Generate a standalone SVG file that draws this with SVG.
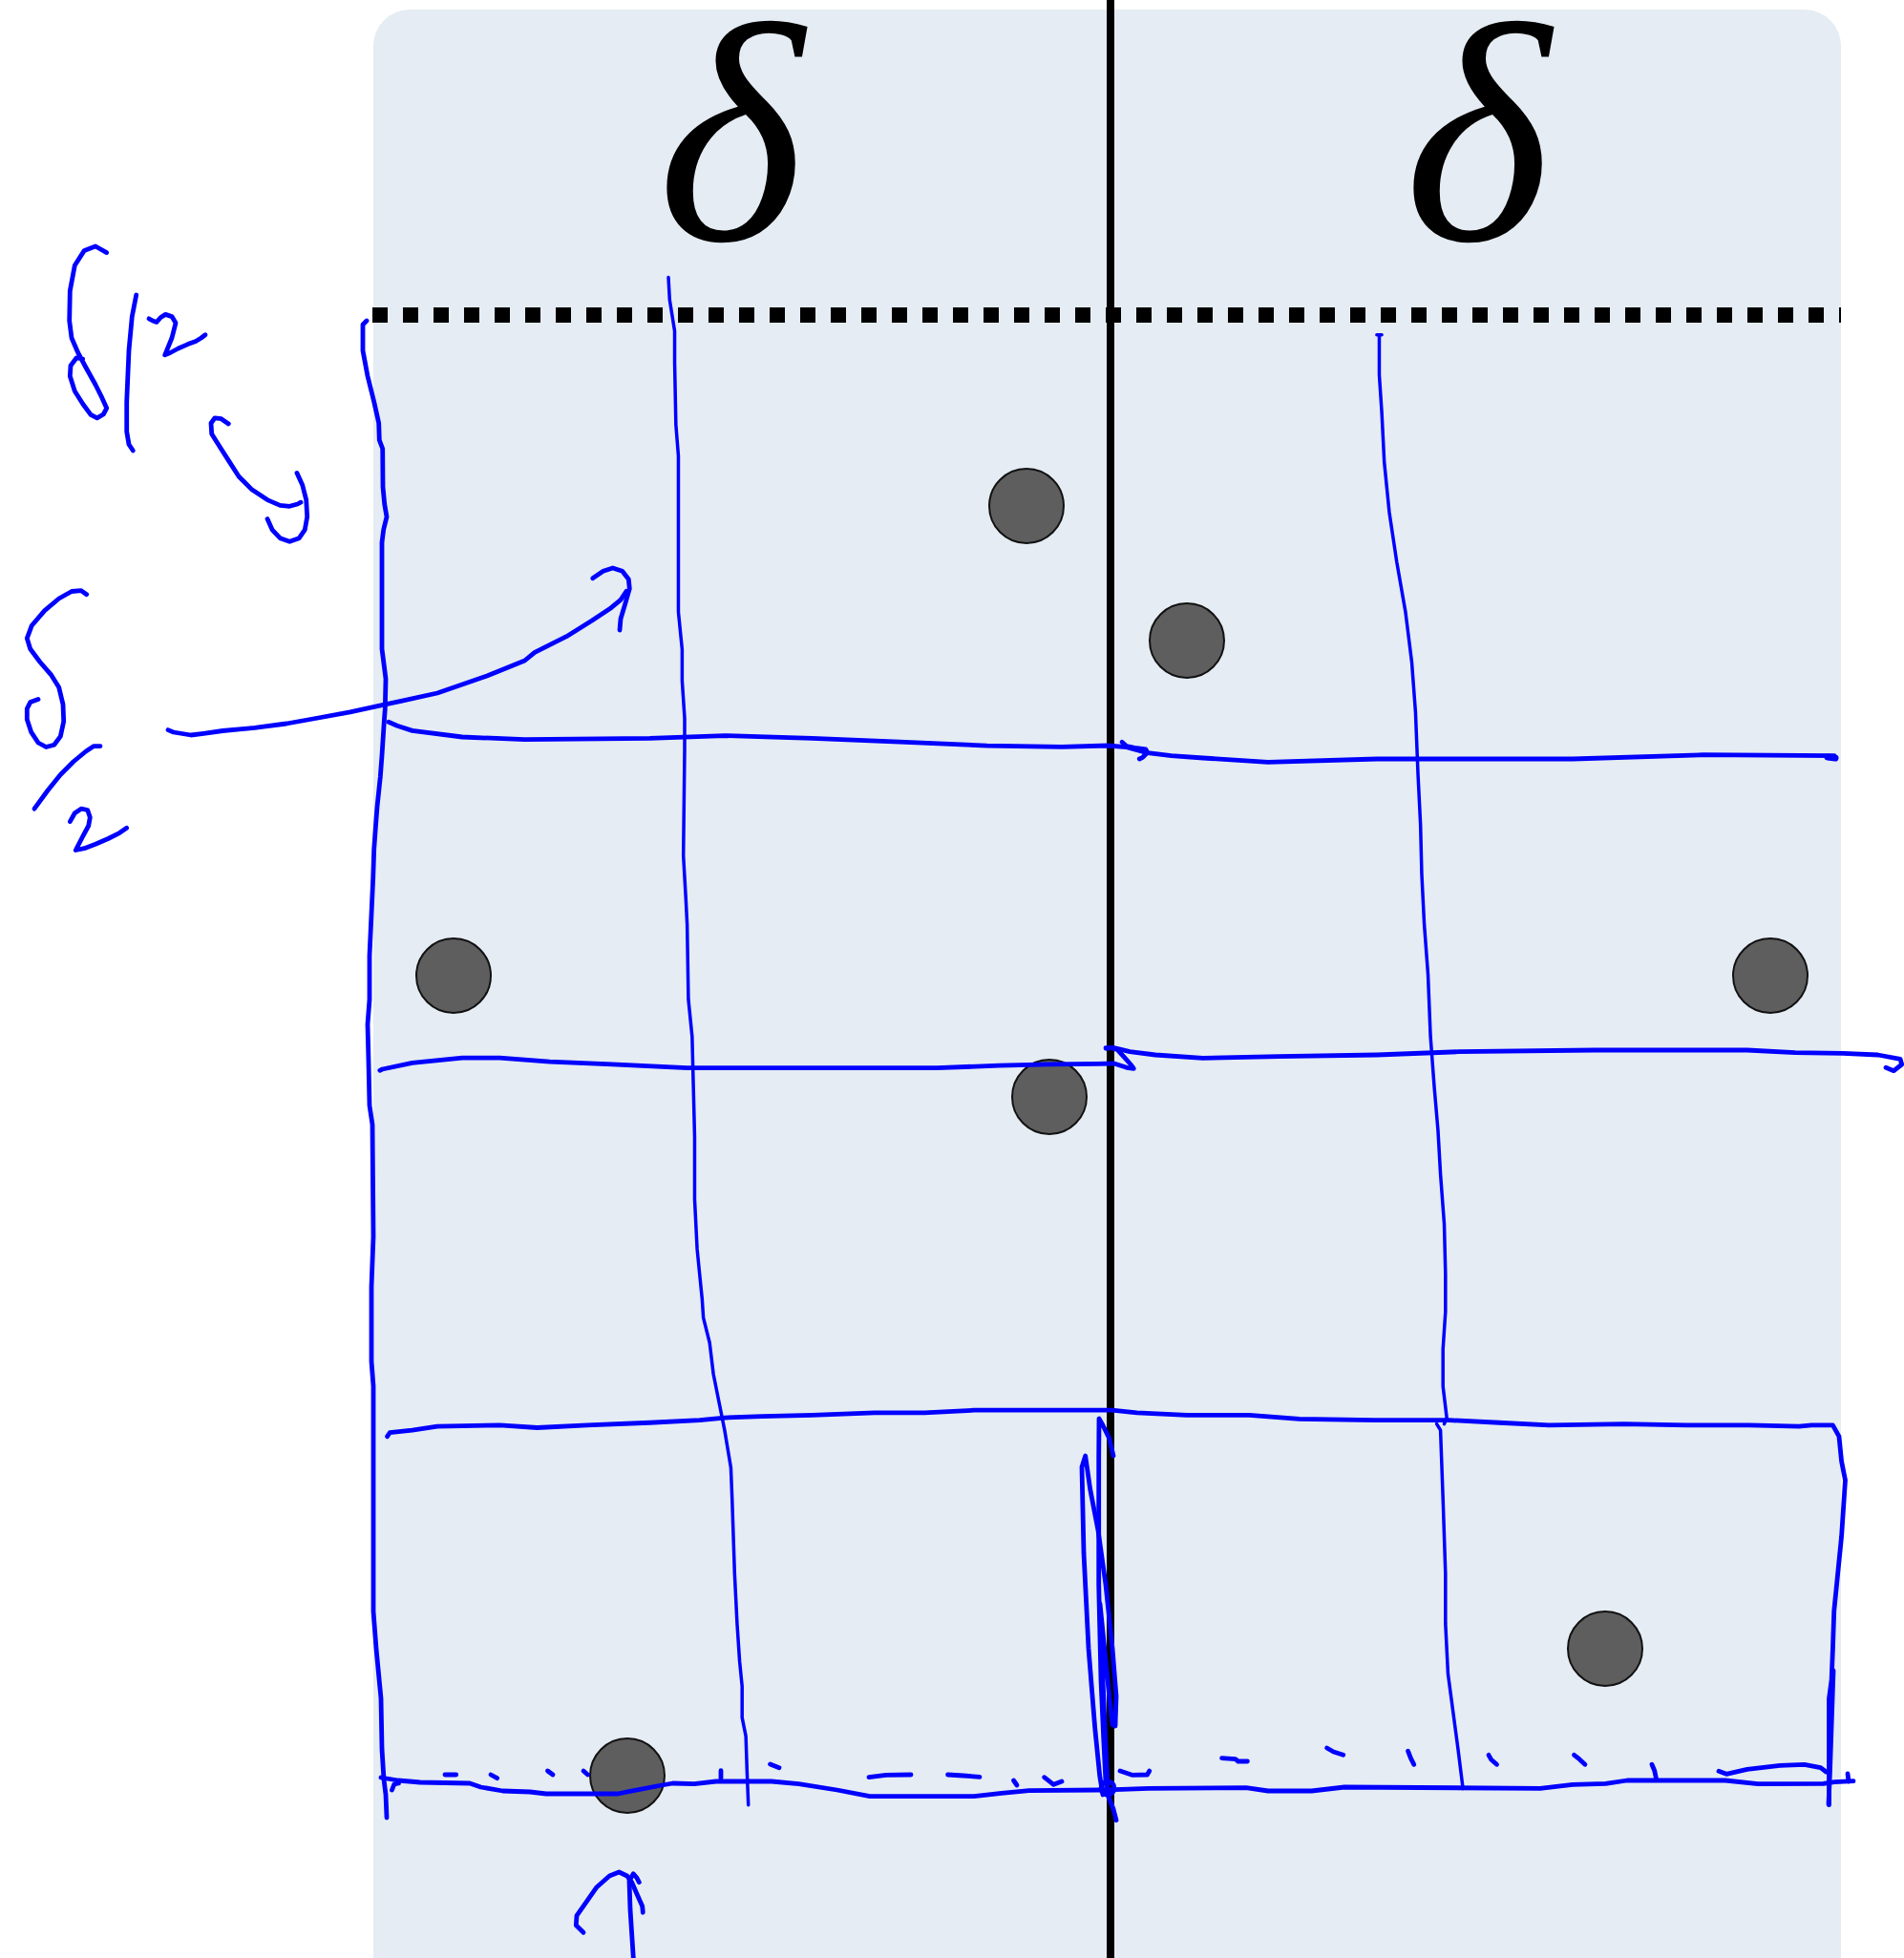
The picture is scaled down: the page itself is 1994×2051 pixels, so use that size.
<svg xmlns="http://www.w3.org/2000/svg" width="1994" height="2051" viewBox="0 0 1994 2051">
<style>
.pen{fill:none;stroke:#0000ff;stroke-width:4.8;stroke-linecap:round;stroke-linejoin:round}
.thin{stroke-width:3.5}
.dot{fill:#5e5e5e;stroke:#111;stroke-width:2}
.delta{font-family:"Liberation Serif","DejaVu Serif",serif;font-style:italic;font-size:328px;fill:#000}
</style>
<rect x="0" y="0" width="1994" height="2051" fill="#ffffff"/>
<g id="panel">
<rect x="391" y="10" width="1537" height="2100" rx="38" fill="#e5ecf3"/>
</g>
<g id="labels">
<text class="delta" x="765" y="251" text-anchor="middle">δ</text>
<text class="delta" x="1547" y="251" text-anchor="middle">δ</text>
</g>
<g id="boundary">
<line x1="390" y1="330" x2="1928" y2="330" stroke="#000" stroke-width="16" stroke-dasharray="16 16"/>
<line x1="1163" y1="0" x2="1163" y2="2051" stroke="#000" stroke-width="8"/>
</g>
<g id="points">
<circle class="dot" cx="1075" cy="530" r="39"/>
<circle class="dot" cx="1243" cy="671" r="39"/>
<circle class="dot" cx="475" cy="1022" r="39"/>
<circle class="dot" cx="1854" cy="1022" r="39"/>
<circle class="dot" cx="1099" cy="1149" r="39"/>
<circle class="dot" cx="1681" cy="1727" r="39"/>
<circle class="dot" cx="657" cy="1860" r="39"/>
</g>
<g id="annotation" class="pen">
<path d="M111.7,264.6 L100,258 L88.3,262.4 L78.3,278 L73.3,304.8 L72.7,336 L75,354 L81.7,369.5 L90,385 L100,403 L106.7,416.4 L111.7,427.6 L108.3,434 L101.7,437.8 L95,434.3 L86.7,423 L78.3,409.7 L73.3,394 L74,383 L80,375 L86.7,376"/>
<path d="M142.7,309 L138.3,331.6 L135,367 L132.7,421 L132.7,452 L135,465.5 L139.3,472"/>
<path d="M156,333.8 L160,336 L164,337.4 L168.3,332.5 L173.3,329.4 L180,331.6 L184,338.3 L180,354 L172.7,371.8 L178.3,369.5 L186.7,365 L196.7,360.6 L205,357.5 L210.7,354 L215,350.8"/>
<path d="M239.3,444 L231.7,438.7 L225,437.8 L221,443.2 L221.7,454.4 L230,467.8 L240,483.4 L250,499 L263.3,512.4 L280,523.6 L293.3,529.4 L303.3,530.3 L311.7,528 L315,526.2"/>
<path d="M311,495.4 L316.7,508 L320.7,523.6 L321.7,541.4 L319.3,554.8 L313.3,563.7 L303.3,567.3 L293.3,563.7 L285,554.8 L280,543.6"/>
<path d="M90.7,622.7 L85,618.6 L75,619.5 L61.7,627 L46.7,639.6 L33.3,655.2 L28.3,668.6 L31.7,679.8 L41.7,693.2 L53.3,706.6 L61.7,720 L66,737.9 L66.7,755.7 L63.3,771.4 L56.7,780.2 L48.3,782.5 L40,778 L32.7,766.9 L28.3,753.4 L28.3,742.3 L31.7,735.6 L40,732.5"/>
<path d="M105,781.6 L98.3,781.6 L90,787 L76.7,798 L63.3,811.5 L50,828 L36,847.2"/>
<path d="M73.3,860.6 L78.3,851.7 L85,847.2 L91.7,848.5 L94.3,856.2 L92.7,865 L86.7,876.2 L79.3,890.5 L88.3,888.7 L100,884.3 L113.3,878.5 L125,872.6 L132.7,867.3"/>
<path d="M176,764.6 L181.7,767 L200,770 L213.3,768.3 L233.3,765.5 L266.7,762.4 L300,758 L333.3,752 L366.7,745.9 L400,738.7 L420,734.3 L458,726 L510,708 L549.5,692 L560,683.3 L593.3,666.7 L620,650 L640,636.7 L650,628.3 L656,619.3"/>
<path d="M620.7,605.7 L631.7,598.3 L641.7,595 L651.7,598.3 L658.3,606.7 L659.3,616.7 L655,631.7 L650,648.3 L649,660"/>
<path d="M611,2024.3 L603.3,2016.7 L604,2006.7 L613.3,1993.3 L625,1976.7 L638.3,1965 L648.3,1961 L656.7,1965 L661.7,1971.7 L666.7,1983.3 L672.7,1996.7 L673.3,2003.3"/>
<path d="M663.3,2051 L660,2000 L659,1970 L663.3,1962.7 L666.7,1966.7 L669.3,1971.7"/>
</g>
<g id="grid" class="pen">
<path d="M384,336 L380,340 L380,349.5 L380,367.3 L385,394 L391.7,420.9 L396.7,443.2 L397.3,461 L400.7,470 L401,510 L402.7,528 L405,541.4 L401.7,554.8 L400,568.2 L400,679.8 L402.3,697.6 L404,711 L403.3,742.3 L402.3,755.7 L400,791.4 L398.3,813.7 L395,845 L393.3,867.3 L391.7,889.6 L390.7,920 L387,1001 L387,1047 L385,1073 L386,1112 L387,1158 L390,1178 L391,1295 L389,1348 L389,1426 L391,1452 L391,1688 L394,1727 L399,1779 L400,1832 L402,1864 L404,1880 L405,1904"/>
<g transform="scale(1.3084)">
<path class="thin" vector-effect="non-scaling-stroke" d="M535,222 L536,240 L540,265 L540,290 L541,340 L543,365 L543,490 L546,520 L546,545 L548,575 L548,600 L547,685 L549,720 L550,740 L551,800 L554,830 L555,870 L556,910 L556,960 L558,1000 L560,1020 L562,1040 L563,1055 L568,1075 L571,1100 L576,1125 L580,1145 L585,1175 L586,1200 L588,1260 L590,1300 L592,1330 L594,1350 L594,1375 L597,1390 L598,1420 L599,1445"/>
<path class="thin" vector-effect="non-scaling-stroke" d="M1102,268 L1106,268 M1104,268 L1104,300 L1106,330 L1108,370 L1112,410 L1118,450 L1125,490 L1130,530 L1133,570 L1135,620 L1137,660 L1138,700 L1140,740 L1143,780 L1145,830 L1148,870 L1151,905 L1153,940 L1156,980 L1157,1020 L1157,1050 L1155,1080 L1155,1110 L1158,1135 L1156,1140"/>
<path class="thin" vector-effect="non-scaling-stroke" d="M1150,1140 L1153,1145 L1155,1200 L1157,1260 L1157,1300 L1159,1340 L1163,1370 L1167,1400 L1171,1432"/>
<path vector-effect="non-scaling-stroke" d="M310,1150 L312,1147 L330,1145 L350,1142 L400,1141 L430,1143 L470,1141 L520,1139 L560,1137 L580,1135 L610,1134 L650,1133 L700,1131 L740,1131 L780,1129 L820,1129 L890,1129 L910,1131 L950,1133 L1000,1133 L1040,1136 L1100,1137 L1160,1137 L1200,1139 L1240,1141 L1300,1140 L1350,1141 L1400,1141 L1440,1142 L1450,1141 L1467,1141 L1472,1150 L1474,1170 L1477,1185 L1476,1200 L1474,1230 L1471,1260 L1468,1290 L1467,1320 L1466,1345 L1464,1360 L1464,1400 L1464,1445"/>
</g>
<path d="M406.9,756.3 L416,760.2 L431.8,765.4 L484.1,772 L549.5,774.6 L680.4,773.3 L758.9,770.6 L850.5,773.3 L942,777.2 L1033.6,781.1 L1112,782.4 L1160,781 L1180,782.7 L1200,788.3 L1226.7,791.7 L1260,794 L1328,798.3 L1442,795 L1647,795 L1784,790.7 L1921,791.7"/>
<path d="M1914,793 L1922,794" stroke-width="7"/>
<path d="M1175,777.3 L1180,781.7 L1188.3,783.3 L1200,785 L1201.7,788.3 L1196.7,793.3 L1193.3,795"/>
<path d="M397.8,1121.3 L400.4,1120 L431.8,1113.4 L484.1,1108.2 L523.4,1108.2 L575.7,1112.1 L641.1,1114.8 L719.6,1118.7 L850.5,1118.7 L981.3,1118.7 L1046.7,1116.1 L1099,1114.8 L1150,1114.3 L1166.7,1114 L1180,1118.3 L1187.3,1119.3 L1185,1116 L1176.7,1106.7 L1170,1099.3 L1163.3,1097.7 L1158.3,1098.3"/>
<path d="M1158,1097.7 L1166.7,1097.7 L1183.3,1101.7 L1210,1105 L1259.6,1108.3 L1339.5,1106.7 L1442,1105 L1527.6,1101.7 L1670,1100 L1829.8,1100 L1880,1102.7 L1930,1103.3 L1966.7,1105 L1990,1109.3 L1991.7,1115 L1983.3,1121.7 L1975,1118.3"/>
<path d="M399,1862 L417,1865 L440,1867 L492,1868 L503.5,1872 L526.5,1876 L555,1877 L572,1879 L647,1879 L658.5,1876.7 L693,1870 L704.5,1868 L727,1868.7 L750,1866 L808,1866 L836.5,1868.7 L876.6,1875 L911,1881.7 L1020,1881.7 L1049,1878.3 L1077.6,1875.7 L1152,1875 L1175,1874.3 L1202.6,1873.3 L1305,1872.7 L1328,1876 L1373.7,1876 L1408,1872 L1613,1873.3 L1647,1869.3 L1681.5,1868.3 L1704,1865 L1807,1865 L1841,1868.7 L1909.6,1868.3 L1921,1866.7 L1941,1865.7"/>
<path d="M1935,1858 L1936,1866"/>
<path d="M1920,1750 L1916.4,1856.7 L1915,1890"/>
<path d="M1166,1525 L1161.7,1506.7 L1155,1493 L1151,1486 L1150.7,1526.7 L1150.7,1660 L1153,1760 L1156,1826.7 L1158,1866.7 L1160,1880"/>
<path d="M1155,1880 L1151.7,1860 L1146.7,1810 L1140,1726.7 L1135,1626.7 L1133,1536.7 L1136.7,1525 L1141.7,1560 L1150,1603 L1158,1660 L1165,1726.7 L1169,1776.7 L1168,1808 L1165,1806.7 L1161.7,1776.7 L1156.7,1726.7 L1152,1680 L1155,1760 L1158,1830 L1160,1870"/>
<circle cx="1160" cy="1873" r="7"/>
<path d="M1160,1880 L1166,1895 L1169,1906.7"/>
<path d="M410.5,1875 L412.8,1869 L417.4,1868"/>
<path d="M466,1859 L477.7,1859"/>
<path d="M514,1859 L520.7,1862.7"/>
<path d="M573.5,1855 L579,1859"/>
<path d="M611,1855 L615.5,1859"/>
<path d="M755,1854.7 L755,1863"/>
<path d="M806.6,1848 L816,1851.7"/>
<path d="M910,1861.7 L928,1859.3 L954,1859"/>
<path d="M992.6,1859 L1008.7,1860 L1026,1861.3"/>
<path d="M1061.5,1865 L1065,1870"/>
<path d="M1093.6,1861.7 L1103.4,1869.3 L1112,1866"/>
<path d="M1173,1855 L1185.5,1859.3 L1201.5,1859 L1203.8,1855"/>
<path d="M1279.6,1841.7 L1293.8,1842.7 L1296.7,1845 L1306.4,1845"/>
<path d="M1389.6,1831 L1396.5,1835 L1406.7,1838.3"/>
<path d="M1474.6,1834.3 L1477.4,1841.7 L1480.8,1848.3"/>
<path d="M1559,1838.3 L1561.8,1843.3 L1567.5,1848.3"/>
<path d="M1648.5,1838.3 L1654,1842.7 L1659.9,1848.3"/>
<path d="M1730,1848.3 L1732.8,1855 L1734.5,1863.3"/>
<path d="M1800,1855.3 L1808,1858.3 L1829.8,1853.3 L1864,1849.3 L1889.6,1848.3 L1906.7,1851.7 L1912.4,1856"/>
</g>
</svg>
